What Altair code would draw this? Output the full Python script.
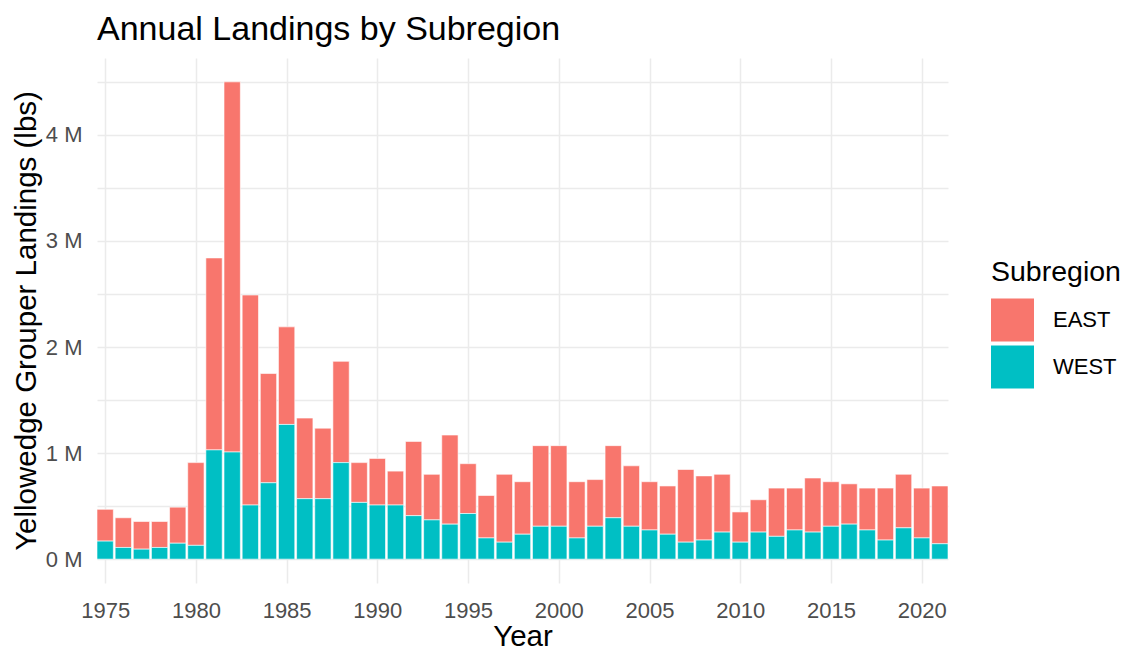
import altair as alt
import pandas as pd

years = list(range(1975, 2022))
west = [170000, 110000, 94000, 110000, 150000, 130000, 1030000, 1010000, 510000, 720000,
        1270000, 570000, 570000, 910000, 535000, 510000, 510000, 410000, 370000, 330000,
        430000, 200000, 160000, 235000, 310000, 310000, 200000, 310000, 390000, 310000,
        275000, 235000, 160000, 180000, 255000, 160000, 255000, 215000, 275000, 255000,
        310000, 330000, 275000, 180000, 295000, 200000, 145000]
east = [300000, 280000, 261000, 245000, 340000, 780000, 1810000, 3490000, 1980000, 1030000,
        920000, 760000, 665000, 955000, 375000, 440000, 320000, 700000, 430000, 840000,
        470000, 400000, 640000, 495000, 760000, 760000, 530000, 440000, 680000, 570000,
        455000, 455000, 685000, 605000, 545000, 285000, 305000, 455000, 395000, 510000,
        420000, 380000, 395000, 490000, 505000, 470000, 545000]
subregions = ["EAST", "WEST"]
colors = ["#F8766D", "#00BFC4"]
x_ticks = [1975, 1980, 1985, 1990, 1995, 2000, 2005, 2010, 2015, 2020]
y_ticks = [0, 500000, 1000000, 1500000, 2000000, 2500000, 3000000, 3500000, 4000000, 4500000]

rows = []
for y, w, e in zip(years, west, east):
    rows.append({"Year": y, "Subregion": "EAST", "Landings": e, "ord": 1})
    rows.append({"Year": y, "Subregion": "WEST", "Landings": w, "ord": 0})
df = pd.DataFrame(rows)

FONT = "Liberation Sans"

chart = alt.Chart(df).transform_stack(
    stack="Landings", groupby=["Year"], as_=["y0", "y1"],
    sort=[alt.SortField("ord", order="ascending")]
).transform_calculate(
    x0="datum.Year - 0.45", x1="datum.Year + 0.45"
).mark_bar(stroke="white", strokeWidth=0.6).encode(
    x=alt.X("x0:Q", title="Year",
            scale=alt.Scale(domain=[1974.55, 2021.45], nice=False, zero=False),
            axis=alt.Axis(values=x_ticks, format="d", labelFlush=False, labelPadding=17,
                          titlePadding=1)),
    x2="x1:Q",
    y=alt.Y("y0:Q", title="Yellowedge Grouper Landings (lbs)",
            scale=alt.Scale(domain=[-225000, 4725000], nice=False, zero=False),
            axis=alt.Axis(values=y_ticks, labelPadding=15, titleX=-56,
                          labelExpr="datum.value % 1000000 == 0 ? (datum.value / 1000000) + ' M' : ''")),
    y2="y1:Q",
    color=alt.Color("Subregion:N", scale=alt.Scale(domain=subregions, range=colors),
                    legend=alt.Legend(title="Subregion", orient="none", legendX=894, legendY=200,
                                      symbolType="square", symbolSize=1849, symbolStrokeWidth=0,
                                      rowPadding=4, labelOffset=19, titlePadding=12,
                                      titleFontSize=28.5)),
).properties(
    width=851, height=525,
    title=alt.TitleParams("Annual Landings by Subregion", anchor="start", fontSize=34,
                          fontWeight="normal", font=FONT, color="black", offset=11,
                          frame="group"),
    autosize=alt.AutoSizeParams(type="none"),
    padding={"left": 89, "top": 50, "right": 176, "bottom": 69},
).configure_view(stroke=None).configure_axis(
    domain=False, ticks=False, grid=True, gridColor="#EBEBEB", gridWidth=1.5,
    labelFont=FONT, labelFontSize=22, labelColor="#4D4D4D",
    titleFont=FONT, titleFontSize=29.5, titleFontWeight="normal", titleColor="black",
).configure_legend(
    labelFont=FONT, labelFontSize=22, labelColor="black",
    titleFont=FONT, titleFontWeight="normal", titleColor="black",
)

chart.save("out.html", embed_options={"renderer": "svg", "actions": False})
